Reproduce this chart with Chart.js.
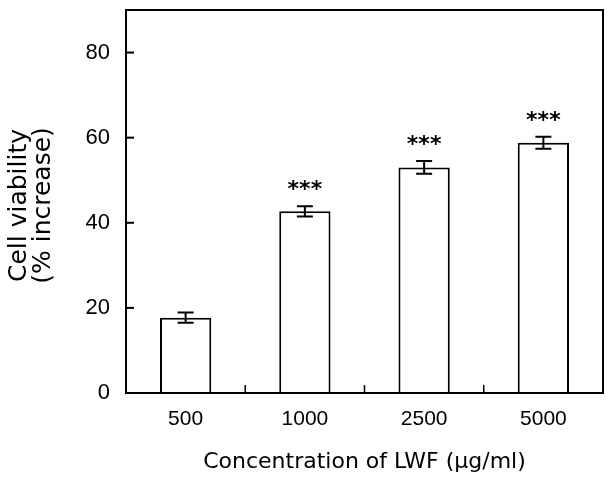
<!DOCTYPE html>
<html>
<head>
<meta charset="utf-8">
<script src="https://cdn.jsdelivr.net/npm/chart.js@4"></script>
<style>
html,body{margin:0;padding:0;background:#fff;}
#wrap{width:607px;height:477px;}
</style>
</head>
<body>
<div id="wrap"><canvas id="c" width="607" height="477"></canvas></div>
<script>
const categories = ['500', '1000', '2500', '5000'];
const viability = [17.7, 42.7, 53.0, 58.8];
const errors = [1.2, 1.2, 1.5, 1.4];
const significance = ['', '***', '***', '***'];
const yTicks = [0, 20, 40, 60, 80];

const decorPlugin = {
  id: 'decor',
  afterDatasetsDraw(chart) {
    const ctx = chart.ctx;
    const xs = chart.scales.x, ys = chart.scales.y;
    const a = chart.chartArea;
    ctx.save();
    ctx.strokeStyle = '#000';
    ctx.fillStyle = '#000';
    ctx.lineWidth = 2;
    viability.forEach((v, i) => {
      const x = xs.getPixelForValue(i);
      const yt = ys.getPixelForValue(v + errors[i]);
      const yb = ys.getPixelForValue(v - errors[i]);
      ctx.beginPath();
      ctx.moveTo(x, yt); ctx.lineTo(x, yb);
      ctx.moveTo(x - 8, yt); ctx.lineTo(x + 8, yt);
      ctx.moveTo(x - 8, yb); ctx.lineTo(x + 8, yb);
      ctx.stroke();
      if (significance[i]) {
        ctx.font = 'bold 22px "DejaVu Sans"';
        ctx.textAlign = 'center';
        ctx.textBaseline = 'middle';
        ctx.fillText(significance[i], x, yt - 16);
      }
    });
    ctx.lineWidth = 2;
    ctx.strokeRect(a.left, a.top, a.right - a.left, a.bottom - a.top);
    yTicks.forEach(t => {
      const y = ys.getPixelForValue(t);
      ctx.beginPath();
      ctx.moveTo(a.left, y); ctx.lineTo(a.left + 8, y);
      ctx.stroke();
    });
    ctx.lineWidth = 1.5;
    for (let i = 0; i < categories.length - 1; i++) {
      const x = (xs.getPixelForValue(i) + xs.getPixelForValue(i + 1)) / 2;
      ctx.beginPath();
      ctx.moveTo(x, a.bottom); ctx.lineTo(x, a.bottom - 8);
      ctx.stroke();
    }
    ctx.restore();
  }
};

new Chart(document.getElementById('c'), {
  type: 'bar',
  data: {
    labels: categories,
    datasets: [{
      data: viability,
      backgroundColor: '#fff',
      borderColor: '#000',
      borderWidth: 2,
      borderSkipped: 'bottom',
      barPercentage: 0.43,
      categoryPercentage: 1.0
    }]
  },
  options: {
    responsive: false,
    animation: false,
    layout: { padding: { top: 10, right: 4, left: 0, bottom: 0 } },
    plugins: { legend: { display: false }, tooltip: { enabled: false } },
    scales: {
      x: {
        grid: { display: false, drawTicks: false },
        border: { display: false },
        ticks: { color: '#000', padding: 14, font: { family: '"Liberation Sans", Arial, sans-serif', size: 21 } },
        title: {
          display: true,
          text: 'Concentration of LWF (μg/ml)',
          color: '#000',
          font: { family: '"DejaVu Sans"', size: 22 },
          padding: { top: 0, bottom: 2 }
        },
        afterFit(scale) { scale.height = 84; scale.paddingLeft = 0; scale.paddingRight = 0; }
      },
      y: {
        min: 0,
        max: 90,
        grid: { display: false, drawTicks: false },
        border: { display: false },
        afterBuildTicks(scale) { scale.ticks = yTicks.map(v => ({ value: v })); },
        ticks: { color: '#000', padding: 16, font: { family: '"Liberation Sans", Arial, sans-serif', size: 22 } },
        title: {
          display: true,
          text: ['Cell viability ', '(% increase) '],
          color: '#000',
          font: { family: '"DejaVu Sans"', size: 25, lineHeight: 0.96 },
          padding: { top: 7, bottom: 0 }
        },
        afterFit(scale) { scale.width = 126; scale.paddingTop = 0; scale.paddingBottom = 0; }
      }
    }
  },
  plugins: [decorPlugin]
});
</script>
</body>
</html>
